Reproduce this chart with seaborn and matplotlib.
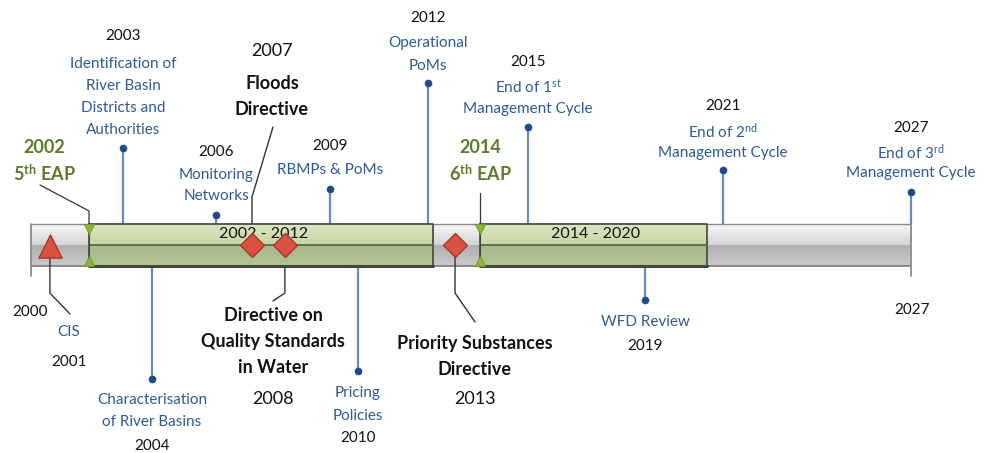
import numpy as np
import matplotlib
matplotlib.use("Agg")
import matplotlib.pyplot as plt
import seaborn as sns
import pandas as pd
from matplotlib.colors import to_rgb

# ---------------- data ----------------
timeline_start, timeline_end = 2000.0, 2027.0
period_labels = ["2002 - 2012", "2014 - 2020"]
period_start = [2001.78, 2013.78]
period_end = [2012.34, 2020.74]

eap_years = ["2002", "2014"]
eap_labels = ["5$^{\\mathbf{th}}$ EAP", "6$^{\\mathbf{th}}$ EAP"]
eap_pos = [2001.78, 2013.78]

above_years = ["2003", "2006", "2009", "2012", "2015", "2021", "2027"]
above_labels = [
    ["Identification of", "River Basin", "Districts and", "Authorities"],
    ["Monitoring", "Networks"],
    ["RBMPs & PoMs"],
    ["Operational", "PoMs"],
    ["End of 1$^{\\mathrm{st}}$", "Management Cycle"],
    ["End of 2$^{\\mathrm{nd}}$", "Management Cycle"],
    ["End of 3$^{\\mathrm{rd}}$", "Management Cycle"],
]
above_pos = [2002.82, 2005.68, 2009.17, 2012.18, 2015.25, 2021.23, 2027.0]

below_years = ["2004", "2010", "2019"]
below_labels = [["Characterisation", "of River Basins"], ["Pricing", "Policies"], ["WFD Review"]]
below_pos = [2003.71, 2010.03, 2018.84]

directive_years = ["2007", "2008", "2013"]
directive_labels = [["Floods", "Directive"],
                    ["Directive on", "Quality Standards", "in Water"],
                    ["Priority Substances", "Directive"]]
directive_pos = [2006.78, 2007.79, 2013.01]

cis_year, cis_label, cis_pos = "2001", "CIS", 2000.58
end_labels = ["2000", "2027"]

# ---------------- layout (pixels) ----------------
W, H = 987, 453
X0PX, X1PX = 31, 911
K = (X1PX - X0PX) / (timeline_end - timeline_start)
def px(xp):
    return timeline_start + (xp - X0PX) / K
BAR_T, BAR_M, BAR_B = 224, 245, 266

above_dot_y = [148, 215, 189, 83, 127, 170, 192]
above_year_y = [34, 150, 145, 17, 61, 105, 127]
above_text_y = [63, 173, 169, 42, 85, 129, 150]
below_dot_y = [379, 371, 300]
below_text_y = [399, 392, 321]
below_year_y = [445, 437, 344]

BLUE_TXT = "#2f5a93"
STEM_BLUE = "#6a8cbb"
DOT_BLUE = "#1f4a85"
GREEN_TXT = "#5b7a2b"
RED = "#d9513f"
RED_EDGE = "#a33226"
FONT = "Lato"
FS = 11

sns.set_theme(style="white")
plt.rcParams["font.family"] = [FONT, "DejaVu Sans"]
plt.rcParams["mathtext.fontset"] = "custom"
plt.rcParams["mathtext.rm"] = FONT
plt.rcParams["mathtext.it"] = FONT + ":italic"
plt.rcParams["mathtext.bf"] = FONT + ":bold"

fig = plt.figure(figsize=(W / 100, H / 100), dpi=100)
ax = fig.add_axes([0, 0, 1, 1])
ax.set_xlim(px(0), px(W))
ax.set_ylim(H, 0)
ax.axis("off")

def gradient(c_top, c_bot, n=40):
    a = np.array(to_rgb(c_top)); b = np.array(to_rgb(c_bot))
    t = np.linspace(0, 1, n)[:, None]
    col = a * (1 - t) + b * t
    return np.repeat(col[:, None, :], 2, axis=1)

def grad_rect(x0, x1, y0, y1, ctop, cbot, z):
    ax.imshow(gradient(ctop, cbot), extent=(x0, x1, y1, y0), aspect="auto",
              interpolation="bilinear", zorder=z)

# gray background bar
grad_rect(timeline_start, timeline_end, BAR_T, BAR_M, "#f7f7f7", "#d4d4d4", 1)
grad_rect(timeline_start, timeline_end, BAR_M, BAR_B, "#b0b0b0", "#cacaca", 1)
ax.plot([timeline_start, timeline_end], [BAR_T, BAR_T], color="#8a8a8a", lw=1, zorder=2)
ax.plot([timeline_start, timeline_end], [BAR_B, BAR_B], color="#7a7a7a", lw=1.2, zorder=2)
for xe in (timeline_start, timeline_end):
    ax.plot([xe, xe], [BAR_T, BAR_B + 10], color="#8a8a8a", lw=1.3, zorder=2)

# green periods
for s, e, lab in zip(period_start, period_end, period_labels):
    grad_rect(s, e, BAR_T, BAR_M, "#dce6c0", "#c6d6a6", 3)
    grad_rect(s, e, BAR_M, BAR_B, "#a7b98a", "#b2c394", 3)
    ax.plot([s, e, e, s, s], [BAR_T, BAR_T, BAR_B, BAR_B, BAR_T], color="#40473a", lw=1.2, zorder=4)
    ax.plot([s, e], [BAR_B, BAR_B], color="#40473a", lw=2.2, zorder=4)
    ax.plot([s, e], [BAR_M, BAR_M], color="#5d6650", lw=1.3, zorder=4)
    ax.text((s + e) / 2 + (px(263) - px(261)), 234, lab, ha="center", va="center",
            fontsize=11.5, color="#111111", zorder=6)

# EAP markers (green triangles at the bar)
eap_df = pd.DataFrame({"x": eap_pos})
sns.scatterplot(data=eap_df.assign(y=BAR_T + 5), x="x", y="y", marker="v", s=55,
                color="#8cb43e", edgecolor="#6f9628", linewidth=0.6, ax=ax, zorder=5, legend=False)
sns.scatterplot(data=eap_df.assign(y=BAR_B - 5), x="x", y="y", marker="^", s=55,
                color="#8cb43e", edgecolor="#6f9628", linewidth=0.6, ax=ax, zorder=5, legend=False)
for x in eap_pos:
    ax.plot([x, x], [BAR_T + 4, BAR_B - 4], color="#40473a", lw=0.8, zorder=4)

# EAP labels and connectors
eap_lab_x = [px(44), px(480)]
ax.plot([px(40), eap_pos[0], eap_pos[0]], [185, 211, BAR_T], color="#333333", lw=0.9, zorder=2)
ax.plot([eap_pos[1], eap_pos[1]], [193, BAR_T], color="#333333", lw=0.9, zorder=2)
for lx, yr, lab in zip(eap_lab_x, eap_years, eap_labels):
    ax.text(lx, 146, yr, ha="center", va="center_baseline", fontsize=13, fontweight="bold", color=GREEN_TXT)
    ax.text(lx, 172, lab, ha="center", va="center_baseline", fontsize=13, fontweight="bold", color=GREEN_TXT)

# above-bar blue events
for x, yr, lines, dy, yy, ty in zip(above_pos, above_years, above_labels, above_dot_y, above_year_y, above_text_y):
    ax.plot([x, x], [dy, BAR_T], color=STEM_BLUE, lw=1.6, zorder=2)
    ax.text(x, yy, yr, ha="center", va="center_baseline", fontsize=FS, color="#111111")
    for i, ln in enumerate(lines):
        ax.text(x, ty + 22 * i, ln, ha="center", va="center_baseline", fontsize=FS, color=BLUE_TXT)
above_df = pd.DataFrame({"x": above_pos, "y": above_dot_y})
sns.scatterplot(data=above_df, x="x", y="y", s=26, color=DOT_BLUE, edgecolor=DOT_BLUE, ax=ax, zorder=5, legend=False)

# below-bar blue events
for x, yr, lines, dy, ty, yy in zip(below_pos, below_years, below_labels, below_dot_y, below_text_y, below_year_y):
    ax.plot([x, x], [BAR_B, dy], color=STEM_BLUE, lw=1.6, zorder=2)
    for i, ln in enumerate(lines):
        ax.text(x, ty + 22 * i, ln, ha="center", va="center_baseline", fontsize=FS, color=BLUE_TXT)
    ax.text(x, yy, yr, ha="center", va="center_baseline", fontsize=FS, color="#111111")
below_df = pd.DataFrame({"x": below_pos, "y": below_dot_y})
sns.scatterplot(data=below_df, x="x", y="y", s=26, color=DOT_BLUE, edgecolor=DOT_BLUE, ax=ax, zorder=5, legend=False)

# directives (diamonds) with connectors and bold labels
# Floods (above)
fx = directive_pos[0]
ax.plot([fx, fx, px(273)], [BAR_M, 197, 127], color="#333333", lw=1.0, zorder=2)
ax.text(px(272), 49, directive_years[0], ha="center", va="center_baseline", fontsize=13, color="#111111")
for i, ln in enumerate(directive_labels[0]):
    ax.text(px(272), 82 + 26 * i, ln, ha="center", va="center_baseline", fontsize=13,
            fontweight="bold", color="#111111")
# Quality standards (below)
qx = directive_pos[1]
ax.plot([qx, qx, px(273)], [BAR_M, 293, 301], color="#333333", lw=1.0, zorder=2)
for i, ln in enumerate(directive_labels[1]):
    ax.text(px(273), 314 + 26 * i, ln, ha="center", va="center_baseline", fontsize=13,
            fontweight="bold", color="#111111")
ax.text(px(273), 398, directive_years[1], ha="center", va="center_baseline", fontsize=13, color="#111111")
# Priority substances (below)
px_ = directive_pos[2]
ax.plot([px_, px_, px(475)], [BAR_M, 293, 322], color="#333333", lw=1.0, zorder=2)
for i, ln in enumerate(directive_labels[2]):
    ax.text(px(475), 342 + 26 * i, ln, ha="center", va="center_baseline", fontsize=13,
            fontweight="bold", color="#111111")
ax.text(px(475), 398, directive_years[2], ha="center", va="center_baseline", fontsize=13, color="#111111")

dir_df = pd.DataFrame({"x": directive_pos, "y": [BAR_M] * 3})
sns.scatterplot(data=dir_df, x="x", y="y", marker="D", s=150, color=RED, edgecolor=RED_EDGE,
                linewidth=0.9, ax=ax, zorder=6, legend=False)

# CIS
ax.plot([cis_pos, cis_pos, px(70)], [BAR_M + 8, 293, 314], color="#333333", lw=1.0, zorder=2)
cis_df = pd.DataFrame({"x": [cis_pos], "y": [BAR_M + 1]})
sns.scatterplot(data=cis_df, x="x", y="y", marker="^", s=280, color=RED, edgecolor=RED_EDGE,
                linewidth=0.9, ax=ax, zorder=6, legend=False)
ax.text(px(69), 331, cis_label, ha="center", va="center_baseline", fontsize=FS, color=BLUE_TXT)
ax.text(px(69), 360, cis_year, ha="center", va="center_baseline", fontsize=FS, color="#111111")

# timeline end labels
ax.text(px(30), 310, end_labels[0], ha="center", va="center_baseline", fontsize=FS, color="#111111")
ax.text(px(912), 309, end_labels[1], ha="center", va="center_baseline", fontsize=FS, color="#111111")

fig.savefig("out.png", dpi=100)
